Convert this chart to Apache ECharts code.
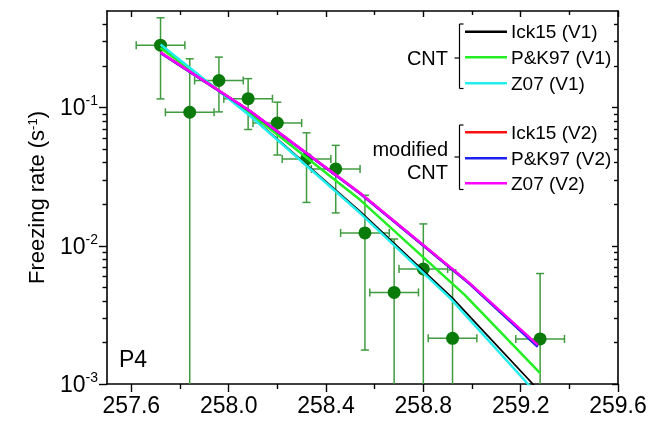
<!DOCTYPE html>
<html><head><meta charset="utf-8">
<script src="https://cdn.jsdelivr.net/npm/echarts@6/dist/echarts.min.js"></script>
<style>html,body{margin:0;padding:0;background:#fff}#c{width:650px;height:422px}</style>
</head><body><div id="c"></div>
<script>
// ---- data ----
const pointT = [257.72, 257.84, 257.96, 258.08, 258.20, 258.32, 258.44, 258.56, 258.68, 258.80, 258.92, 259.28];
const pointJ = [0.283, 0.0925, 0.157, 0.116, 0.0774, 0.0425, 0.036, 0.0124, 0.0046, 0.0068, 0.00214, 0.00212];
const errJHigh = [0.447, 0.2255, 0.232, 0.162, 0.1094, 0.0657, 0.0533, 0.0232, 0.0112, 0.0144, 0.0067, 0.0063];
const errJLow = [0.1156, 0.0001, 0.0931, 0.0694, 0.0454, 0.0206, 0.0173, 0.00176, 0.0001, 0.0001, 0.0001, 0.0001];
const errT = 0.1;

const ick15V1T = [257.72, 258.09, 258.54, 258.92, 259.25, 259.28];
const ick15V1J = [0.283, 0.0875, 0.01774, 0.00418, 0.00100, 0.00087];
const pk97V1T = [257.72, 258.09, 258.54, 258.97, 259.28];
const pk97V1J = [0.270, 0.0906, 0.0215, 0.00442, 0.00120];
const z07V1T = [257.72, 258.09, 258.54, 258.91, 259.23, 259.28];
const z07V1J = [0.286, 0.0865, 0.01726, 0.00418, 0.00100, 0.00079];
const v2T = [257.72, 258.09, 258.54, 258.99, 259.27];
const ick15V2J = [0.250, 0.0938, 0.0240, 0.00533, 0.00189];
const pk97V2J = [0.249, 0.0936, 0.0239, 0.00531, 0.00186];
const z07V2J = [0.251, 0.0940, 0.0241, 0.00537, 0.00192];

const xMajor = [257.6, 258.0, 258.4, 258.8, 259.2, 259.6];
const xMinor = [257.8, 258.2, 258.6, 259.0, 259.4];
const yMajor = [0.001, 0.01, 0.1];
const yMinor = [0.002,0.003,0.004,0.005,0.006,0.007,0.008,0.009,0.02,0.03,0.04,0.05,0.06,0.07,0.08,0.09,0.2,0.3,0.4];
const xMin = 257.5, xMax = 259.6, yMin = 0.001, yMax = 0.5;

const groupV1Label = 'CNT';
const groupV2Label = ['modified', 'CNT'];
const namesV1 = ['Ick15 (V1)', 'P&K97 (V1)', 'Z07 (V1)'];
const namesV2 = ['Ick15 (V2)', 'P&K97 (V2)', 'Z07 (V2)'];
const colorsV1 = ['#000000', '#22ee22', '#22eeee'];
const colorsV2 = ['#ff1010', '#2020ee', '#ff00ff'];
const panelLabel = 'P4';

// ---- chart ----
const FONT = '"Liberation Sans", Arial, sans-serif';
const zip = (a, b) => a.map((v, i) => [v, b[i]]);

function xAxisDef(pos, vals, len, inside, withLine, withLabel) {
  return {
    type: 'value', position: pos, min: xMin, max: xMax,
    axisLine: { show: withLine, onZero: false, lineStyle: { color: '#000', width: 1.6 } },
    axisTick: { show: true, customValues: vals, length: len, inside: inside, lineStyle: { color: '#000', width: 1.4 } },
    axisLabel: withLabel ? { show: true, customValues: vals, formatter: v => v.toFixed(1), fontSize: 23, fontFamily: FONT, color: '#000', margin: 11 } : { show: false },
    splitLine: { show: false }
  };
}
function yAxisDef(pos, vals, len, inside, withLine, withLabel) {
  const a = {
    type: 'log', logBase: 10, position: pos, min: yMin, max: yMax,
    axisLine: { show: withLine, onZero: false, lineStyle: { color: '#000', width: 1.6 } },
    axisTick: { show: true, customValues: vals, length: len, inside: inside, lineStyle: { color: '#000', width: 1.4 } },
    axisLabel: { show: false },
    splitLine: { show: false }
  };
  if (withLabel) {
    a.axisLabel = {
      show: true, customValues: vals, margin: 9,
      formatter: v => '{b|10}{s|' + Math.round(Math.log10(v)) + '}',
      rich: {
        b: { fontSize: 23, fontFamily: FONT, color: '#000', verticalAlign: 'bottom', lineHeight: 26 },
        s: { fontSize: 14, fontFamily: FONT, color: '#000', verticalAlign: 'top', lineHeight: 14 }
      }
    };
    a.name = 'Freezing rate (s{s|-1})';
    a.nameLocation = 'middle';
    a.nameGap = 56;
    a.nameTextStyle = {
      fontSize: 22, fontFamily: FONT, color: '#000',
      rich: { s: { fontSize: 13, fontFamily: FONT, color: '#000', verticalAlign: 'top', lineHeight: 13 } }
    };
  }
  return a;
}

const errData = pointT.map((t, i) => [t, pointJ[i], errJLow[i], errJHigh[i]]);
const EB = '#3f9b3f';

function renderErr(params, api) {
  const x = api.value(0), y = api.value(1), lo = api.value(2), hi = api.value(3);
  const pHi = api.coord([x, hi]);
  const loClamped = Math.max(lo, yMin);
  const pLo = api.coord([x, loClamped]);
  const pL = api.coord([x - errT, y]);
  const pR = api.coord([x + errT, y]);
  const c = 4;
  const st = { stroke: EB, lineWidth: 1.5 };
  const kids = [
    { type: 'line', shape: { x1: pHi[0], y1: pHi[1], x2: pLo[0], y2: pLo[1] }, style: st },
    { type: 'line', shape: { x1: pHi[0] - c, y1: pHi[1], x2: pHi[0] + c, y2: pHi[1] }, style: st },
    { type: 'line', shape: { x1: pL[0], y1: pL[1], x2: pR[0], y2: pR[1] }, style: st },
    { type: 'line', shape: { x1: pL[0], y1: pL[1] - c, x2: pL[0], y2: pL[1] + c }, style: st },
    { type: 'line', shape: { x1: pR[0], y1: pR[1] - c, x2: pR[0], y2: pR[1] + c }, style: st }
  ];
  if (lo >= yMin) kids.push({ type: 'line', shape: { x1: pLo[0] - c, y1: pLo[1], x2: pLo[0] + c, y2: pLo[1] }, style: st });
  return { type: 'group', children: kids };
}

function lineSeries(name, data, color, width, z) {
  return {
    name: name, type: 'line', data: data, xAxisIndex: 0, yAxisIndex: 0,
    showSymbol: false, smooth: false, clip: true, z: z,
    lineStyle: { color: color, width: width }, silent: true, animation: false
  };
}

// legend graphic
const g = [];
const legTextX = 511, legLineX1 = 465, legLineX2 = 507, brX = 459.5;
const rowsV1 = [31.7, 57.3, 83.3];
const rowsV2 = [132.3, 158.3, 183.3];
function addGroup(names, colors, rows, top, bottom, mid) {
  names.forEach((n, i) => {
    g.push({ type: 'line', shape: { x1: legLineX1, y1: rows[i], x2: legLineX2, y2: rows[i] }, style: { stroke: colors[i], lineWidth: 2.5 } });
    g.push({ type: 'text', style: { text: n, x: legTextX, y: rows[i] + 1, font: '19px ' + FONT, fill: '#000', align: 'left', verticalAlign: 'middle' } });
  });
  const st = { stroke: '#000', lineWidth: 1.2 };
  g.push({ type: 'line', shape: { x1: brX, y1: top, x2: brX, y2: bottom }, style: st });
  g.push({ type: 'line', shape: { x1: brX, y1: top, x2: brX + 4, y2: top }, style: st });
  g.push({ type: 'line', shape: { x1: brX, y1: bottom, x2: brX + 4, y2: bottom }, style: st });
  g.push({ type: 'line', shape: { x1: brX - 5, y1: mid, x2: brX, y2: mid }, style: st });
}
addGroup(namesV1, colorsV1, rowsV1, 24, 88.5, 58);
addGroup(namesV2, colorsV2, rowsV2, 125, 189.5, 157);
g.push({ type: 'text', style: { text: groupV1Label, x: 448, y: 59, font: '20px ' + FONT, fill: '#000', align: 'right', verticalAlign: 'middle' } });
g.push({ type: 'text', style: { text: groupV2Label[0], x: 448, y: 150, font: '20px ' + FONT, fill: '#000', align: 'right', verticalAlign: 'middle' } });
g.push({ type: 'text', style: { text: groupV2Label[1], x: 448, y: 173.5, font: '20px ' + FONT, fill: '#000', align: 'right', verticalAlign: 'middle' } });
g.push({ type: 'text', style: { text: panelLabel, x: 119, y: 361, font: '23px ' + FONT, fill: '#000', align: 'left', verticalAlign: 'middle' } });

const chart = echarts.init(document.getElementById('c'), null, { renderer: 'canvas' });
chart.setOption({
  animation: false,
  backgroundColor: '#fff',
  grid: { left: 107, right: 32, top: 11, bottom: 38, containLabel: false },
  xAxis: [
    xAxisDef('bottom', xMajor, 8, false, true, true),
    xAxisDef('bottom', xMinor, 5, false, false, false),
    xAxisDef('top', xMajor, 6, true, true, false),
    xAxisDef('top', xMinor, 4, true, false, false)
  ],
  yAxis: [
    yAxisDef('left', yMajor, 8, false, true, true),
    yAxisDef('left', yMinor, 4.5, false, false, false),
    yAxisDef('right', yMajor, 6, true, true, false),
    yAxisDef('right', yMinor, 4, true, false, false)
  ],
  series: [
    { type: 'custom', xAxisIndex: 0, yAxisIndex: 0, data: errData, renderItem: renderErr, encode: { x: 0, y: 1 }, clip: true, z: 1, silent: true },
    { type: 'scatter', xAxisIndex: 0, yAxisIndex: 0, data: zip(pointT, pointJ), symbol: 'circle', symbolSize: 13, itemStyle: { color: '#0a7a0a', opacity: 1 }, z: 2, silent: true },
    lineSeries(namesV1[0], zip(ick15V1T, ick15V1J), colorsV1[0], 1.8, 3),
    lineSeries(namesV1[1], zip(pk97V1T, pk97V1J), colorsV1[1], 2.5, 3),
    lineSeries(namesV1[2], zip(z07V1T, z07V1J), colorsV1[2], 2.5, 3),
    lineSeries(namesV2[0], zip(v2T, ick15V2J), colorsV2[0], 2.5, 4),
    lineSeries(namesV2[1], zip(v2T, pk97V2J), colorsV2[1], 2.5, 4),
    lineSeries(namesV2[2], zip(v2T, z07V2J), colorsV2[2], 2.5, 4)
  ],
  graphic: g
});
</script>
</body></html>
